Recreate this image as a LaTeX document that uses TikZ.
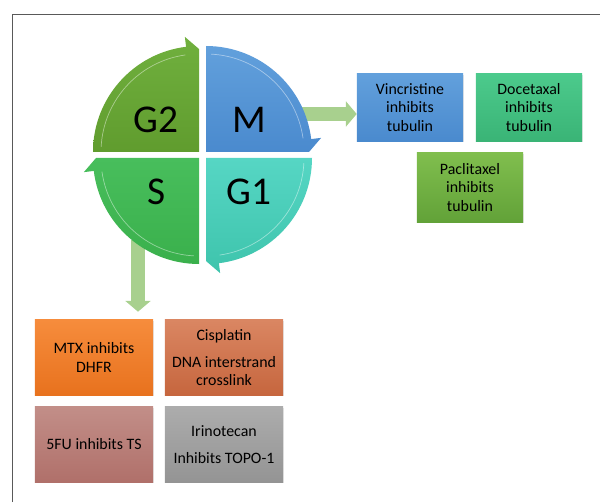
\documentclass[tikz,border=0pt]{standalone}
\usepackage{fontspec}
\setmainfont{Carlito}
\usetikzlibrary{arrows.meta,calc,shadows}

\definecolor{gtwotop}{RGB}{112,176,62}
\definecolor{gtwobot}{RGB}{96,156,46}
\definecolor{mtop}{RGB}{98,160,220}
\definecolor{mbot}{RGB}{74,138,206}
\definecolor{gonetop}{RGB}{86,214,196}
\definecolor{gonebot}{RGB}{62,196,172}
\definecolor{stop}{RGB}{72,190,92}
\definecolor{sbot}{RGB}{58,176,76}
\definecolor{arrowgreen}{RGB}{168,208,142}

% one phase of the cycle: corner, start angle, top colour, bottom colour
\newcommand{\phasequad}[4]{%
    \shade[top color=#3, bottom color=#4] (#1) -- ++(#2:106) arc[start angle=#2, end angle=#2-83, radius=106]
        -- ($(#1)+(#2-83:116)$) -- ($(#1)+(#2-90:103)$) -- cycle;
    \draw[white, opacity=0.45, line width=0.5pt] ($(#1)+(#2-3:98)$) arc[start angle=#2-3, end angle=#2-82, radius=98];
}

\tikzset{
    drugbox/.style={minimum width=2.65cm, minimum height=1.675cm, align=center, inner sep=1pt,
        font=\fontsize{11.3}{13}\selectfont, drop shadow={opacity=0.2, shadow xshift=0.6pt, shadow yshift=-0.6pt}},
    lowbox/.style={drugbox, minimum width=2.95cm, minimum height=1.875cm},
    phaselabel/.style={font=\fontsize{28}{31}\selectfont},
    blockarrow/.style={arrowgreen, line width=0.325cm, -{Triangle[width=0.62cm, length=0.27cm]}}
}

\begin{document}
\begin{tikzpicture}[x=0.025cm, y=0.025cm]
    \useasboundingbox (0,0) rectangle (600,502);
    \draw [line width=0.7pt, black!65] (12,0) -- (12,488) -- (600,488);

    % drug boxes
    \node [drugbox, top color=mtop, bottom color=mbot] (vinc) at (410,394.5) {Vincristine\\inhibits\\tubulin};
    \node [drugbox, top color={rgb,255:red,76;green,202;blue,140}, bottom color={rgb,255:red,58;green,180;blue,118}] (doce) at (529,394.5) {Docetaxal\\inhibits\\tubulin};
    \node [drugbox, minimum height=1.725cm, top color={rgb,255:red,128;green,190;blue,78}, bottom color={rgb,255:red,98;green,162;blue,56}] (pacl) at (470,314.5) {Paclitaxel\\inhibits\\tubulin};

    \node [lowbox, top color={rgb,255:red,246;green,140;blue,60}, bottom color={rgb,255:red,232;green,114;blue,30}] (mtx) at (94,144.5) {MTX inhibits\\DHFR};
    \node [lowbox, top color={rgb,255:red,218;green,134;blue,98}, bottom color={rgb,255:red,198;green,102;blue,62}] (cisp) at (224,144.5) {Cisplatin\\[6pt]DNA interstrand\\crosslink};
    \node [lowbox, top color={rgb,255:red,194;green,142;blue,136}, bottom color={rgb,255:red,176;green,112;blue,106}] (fu) at (94,57.5) {5FU inhibits TS};
    \node [lowbox, top color={rgb,255:red,172;green,172;blue,172}, bottom color={rgb,255:red,148;green,148;blue,148}] (irin) at (224,57.5) {Irinotecan\\[6pt]Inhibits TOPO-1};

    % arrows out of the cycle
    \coordinate (mout) at (298,388);
    \coordinate (sout) at (138,262);
    \draw [blockarrow] (mout) -- (vinc.west |- mout);
    \draw [blockarrow, line width=0.33cm, shorten >=0.2cm] (sout) -- (sout |- mtx.north);

    % the cycle
    \phasequad{199,350}{180}{gtwotop}{gtwobot}
    \phasequad{206,350}{90}{mtop}{mbot}
    \phasequad{206,344}{0}{gonetop}{gonebot}
    \phasequad{199,344}{-90}{stop}{sbot}

    \node [phaselabel] (g2) at (156,382) {G2};
    \node [phaselabel] (m) at (249,382) {M};
    \node [phaselabel] (s) at (157,310) {S};
    \node [phaselabel] (g1) at (249,310) {G1};
\end{tikzpicture}
\end{document}
